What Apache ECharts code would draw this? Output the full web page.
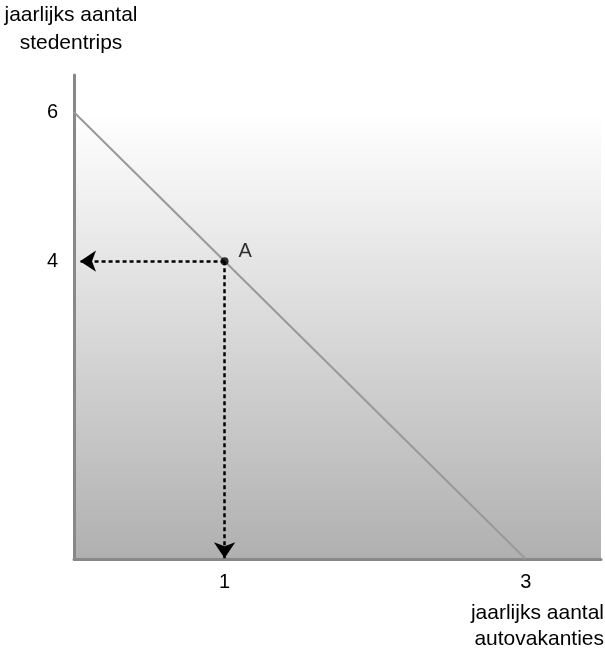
<!DOCTYPE html>
<html>
<head>
<meta charset="utf-8">
<script src="https://cdn.jsdelivr.net/npm/echarts@6/dist/echarts.min.js"></script>
<style>html,body{margin:0;padding:0;background:#fff;}#c{width:605px;height:651px;}</style>
</head>
<body>
<div id="c"></div>
<script>
var xTicks = [1, 3];
var yTicks = [4, 6];
var demandLine = [[0, 6], [3, 0]];
var pointA = [1, 4];
var pointLabel = 'A';
var arrowTargets = [[0.04, 4], [1, 0.01]];
var yAxisTitle = 'jaarlijks aantal\nstedentrips';
var xAxisTitle = 'jaarlijks aantal\nautovakanties';

var chart = echarts.init(document.getElementById('c'));
var font = '"Liberation Sans", Arial, sans-serif';
var option = {
  animation: false,
  grid: {
    left: 74, top: 75, width: 527, height: 484,
    show: true, borderWidth: 0,
    backgroundColor: new echarts.graphic.LinearGradient(0, 0, 0, 1, [
      {offset: 0, color: '#ffffff'},
      {offset: 0.08, color: '#ffffff'},
      {offset: 1, color: '#b0b0b0'}
    ])
  },
  xAxis: {
    type: 'value', min: 0, max: 3.5,
    splitLine: {show: false},
    axisTick: {show: false},
    axisLine: {lineStyle: {color: '#888', width: 3}},
    axisLabel: {
      margin: 13, color: '#000', fontSize: 20, fontFamily: font,
      customValues: xTicks
    }
  },
  yAxis: {
    type: 'value', min: 0, max: 6.5,
    splitLine: {show: false},
    axisTick: {show: false},
    axisLine: {show: true, lineStyle: {color: '#888', width: 3}},
    axisLabel: {
      margin: 16, color: '#000', fontSize: 20, fontFamily: font,
      customValues: yTicks
    }
  },
  graphic: [
    {type: 'text', x: 71, y: 1, style: {text: yAxisTitle, fontSize: 21, fontFamily: font, fill: '#000', align: 'center', lineHeight: 28}},
    {type: 'text', x: 604, y: 600, style: {text: xAxisTitle, fontSize: 21, fontFamily: font, fill: '#000', align: 'right', lineHeight: 26}}
  ],
  series: [
    {
      type: 'line', data: demandLine, symbol: 'none',
      lineStyle: {color: '#999', width: 2}, z: 2
    },
    {
      type: 'lines', coordinateSystem: 'cartesian2d',
      symbol: ['none', 'arrow'], symbolSize: [11, 16],
      lineStyle: {color: '#000', width: 2.5, type: [4, 3], opacity: 1},
      data: arrowTargets.map(function (t) { return {coords: [pointA, t]}; }),
      z: 3
    },
    {
      type: 'scatter', data: [pointA], symbolSize: 8,
      itemStyle: {color: '#000'},
      label: {show: true, formatter: pointLabel, position: [18, -16], color: '#000', fontSize: 20, fontFamily: font},
      z: 4
    }
  ]
};
chart.setOption(option);
</script>
</body>
</html>
